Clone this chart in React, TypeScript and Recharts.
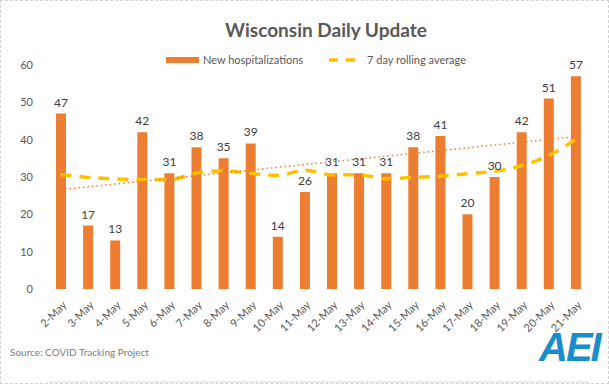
import { ComposedChart, Bar, Line, XAxis, YAxis, Legend, LabelList, ReferenceLine } from 'recharts'

const DAYS = ['2-May','3-May','4-May','5-May','6-May','7-May','8-May','9-May','10-May','11-May','12-May','13-May','14-May','15-May','16-May','17-May','18-May','19-May','20-May','21-May']
const NEW_HOSP = [47, 17, 13, 42, 31, 38, 35, 39, 14, 26, 31, 31, 31, 38, 41, 20, 30, 42, 51, 57]
const ROLLING_AVG = [30.7, 29.9, 29.5, 29.3, 29.3, 31, 31.7, 31, 30.4, 31.8, 30.6, 30.6, 29.5, 29.9, 30.2, 30.9, 31.5, 33, 35.7, 40]
const TREND_ENDS = [26.6, 40.8]
const Y_TICKS = [0, 10, 20, 30, 40, 50, 60]
const EDGE_TICKS = Array.from({ length: DAYS.length + 1 }, (_, i) => i)

const data = DAYS.map((day, i) => ({ day, hosp: NEW_HOSP[i], avg: ROLLING_AVG[i] }))

const ORANGE = '#ED7D31'
const GOLD = '#FFC000'
const TEXT = '#595959'
const FONT = 'Lato, "Open Sans", sans-serif'

const DayTick = ({ x, y, payload }: any) => (
  <g transform={`translate(${x + 4},${y + 6})`}>
    <text x={0} y={0} dy={4} textAnchor="end" transform="rotate(-45)" fontSize={11} fill={TEXT} fontFamily={FONT}>
      {payload.value}
    </text>
  </g>
)

const LegendBox = () => (
  <div style={{ display: 'flex', alignItems: 'center', fontSize: 11, color: TEXT, fontFamily: FONT, paddingLeft: 165 }}>
    <span style={{ width: 33, height: 6, background: ORANGE, display: 'inline-block', marginRight: 4 }} />
    <span style={{ marginRight: 26 }}>New hospitalizations</span>
    <svg width={34} height={6} style={{ marginRight: 4 }}>
      <line x1={0} y1={3} x2={34} y2={3} stroke={GOLD} strokeWidth={3.5} strokeDasharray="9 8" />
    </svg>
    <span>7 day rolling average</span>
  </div>
)

export default function App() {
  return (
    <div style={{ position: 'fixed', left: 0, top: 0, width: 607, height: 382, border: '1px dashed #d4d4d4', background: '#fff', fontFamily: FONT }}>
      <div style={{ position: 'absolute', left: 0, width: 650, top: 17, textAlign: 'center', fontSize: 19, fontWeight: 700, color: TEXT }}>
        Wisconsin Daily Update
      </div>
      <div style={{ position: 'absolute', top: 0, left: 0 }}>
        <ComposedChart width={607} height={382} data={data} margin={{ top: 64, right: 19, bottom: 0, left: 0 }}>
          <XAxis xAxisId="edges" type="number" domain={[0, DAYS.length]} ticks={EDGE_TICKS} tick={false}
            tickSize={5} stroke="#d9d9d9" height={1} />
          <XAxis dataKey="day" interval={0} axisLine={false} tickLine={false} tick={<DayTick />} height={93} />
          <YAxis domain={[0, 60]} ticks={Y_TICKS} axisLine={false} tickLine={false} width={46}
            tick={{ fontSize: 11, fill: TEXT, fontFamily: FONT }} tickMargin={8} />
          <Legend verticalAlign="middle" layout="horizontal" content={<LegendBox />}
            wrapperStyle={{ top: 52, left: 0, width: 607 }} />
          <Bar dataKey="hosp" fill={ORANGE} barSize={10} isAnimationActive={false}>
            <LabelList dataKey="hosp" position="top" offset={7} fontSize={12} fill="#404040" fontFamily={FONT} />
          </Bar>
          <Line type="monotone" dataKey="avg" stroke={GOLD} strokeWidth={3.5} strokeDasharray="11 8" dot={false} isAnimationActive={false} />
          <ReferenceLine segment={[{ x: DAYS[0], y: TREND_ENDS[0] }, { x: DAYS[DAYS.length - 1], y: TREND_ENDS[1] }]}
            stroke={ORANGE} strokeWidth={1.5} strokeDasharray="1.5 3" />
        </ComposedChart>
      </div>
      <div style={{ position: 'absolute', left: 9, top: 345, fontSize: 10, color: '#7f7f7f' }}>Source: COVID Tracking Project</div>
      <div style={{ position: 'absolute', left: 538, top: 324, fontSize: 40, fontWeight: 900, fontStyle: 'italic', color: '#1C8DCB', letterSpacing: -2, fontFamily: '"Liberation Sans", sans-serif' }}>
        AEI
      </div>
    </div>
  )
}
